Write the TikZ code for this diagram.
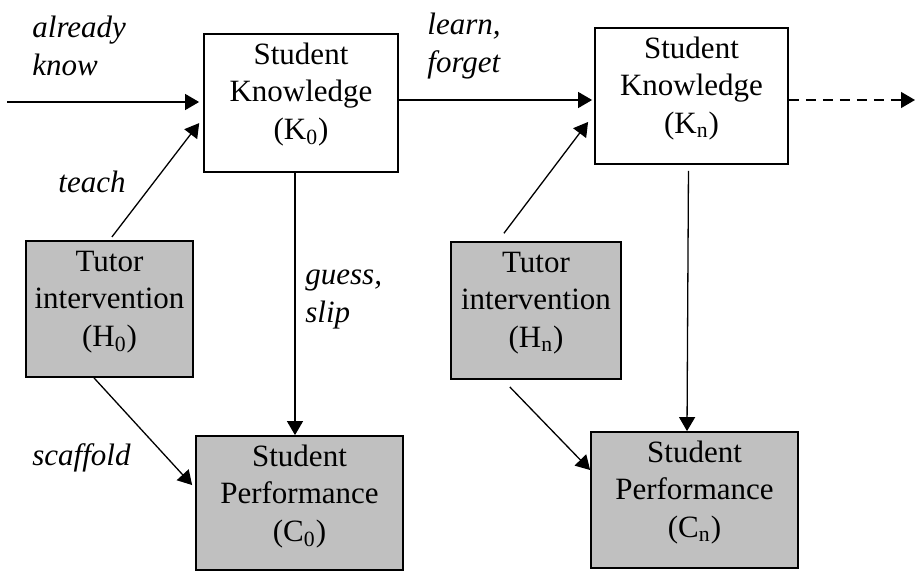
\documentclass[tikz,border=0pt]{standalone}
\usepackage{fontspec}
\setmainfont{Liberation Serif}
\usetikzlibrary{arrows.meta}
\definecolor{boxgray}{RGB}{192,192,192}
\newcommand{\boxlines}[3]{\parbox[c][#2][t]{#1}{\centering\vspace*{2pt}\strut #3}}

\begin{document}
\begin{tikzpicture}[x=0.5pt,y=-0.5pt,
    every node/.style={font=\fontsize{15.5pt}{18.8pt}\selectfont},
    plainbox/.style={draw,line width=0.9pt,inner sep=0pt,fill=white},
    shadedbox/.style={plainbox,fill=boxgray},
    edgelabel/.style={font=\fontsize{15.5pt}{18.8pt}\selectfont\itshape,align=left,inner sep=0pt,anchor=north west},
    arr/.style={line width=0.65pt,-{Triangle[length=7pt,width=8pt]}}]
  \useasboundingbox (0,0) rectangle (915,572);

  % knowledge states
  \node[plainbox] (k0) at (301,103) {\boxlines{97pt}{69pt}{Student\\Knowledge\\(K\textsubscript{0})}};
  \node[plainbox] (kn) at (691.5,96) {\boxlines{96.5pt}{68pt}{Student\\Knowledge\\(K\textsubscript{n})}};

  % tutor interventions
  \node[shadedbox] (h0) at (109.5,309) {\boxlines{83.5pt}{68pt}{Tutor\\intervention\\(H\textsubscript{0})}};
  \node[shadedbox] (hn) at (536,310.5) {\boxlines{85pt}{68.5pt}{Tutor\\intervention\\(H\textsubscript{n})}};

  % performance
  \node[shadedbox] (c0) at (299.5,503) {\boxlines{103.5pt}{67pt}{Student\\Performance\\(C\textsubscript{0})}};
  \node[shadedbox] (cn) at (694.5,500) {\boxlines{103.5pt}{68pt}{Student\\Performance\\(C\textsubscript{n})}};

  % labels
  \node[edgelabel] (lblknow) at (32,11) {\strut already\\know};
  \node[edgelabel] (lbllearn) at (427,8) {\strut learn,\\forget};
  \node[edgelabel] (lblteach) at (58,166) {\strut teach};
  \node[edgelabel] (lblguess) at (305,258) {\strut guess,\\slip};
  \node[edgelabel] (lblscaffold) at (32,439) {\strut scaffold};

  % connectors
  \coordinate (entry) at (7,102);
  \coordinate (exit) at (915,100);
  \draw[arr,shorten >=2pt] (entry) -- (entry -| k0.west);
  \draw[arr,shorten >=1pt] (k0.east |- exit) -- (kn.west |- exit);
  \draw[arr,dash pattern=on 5pt off 3.5pt] (kn.east |- exit) -- (exit);

  \draw[arr,shorten <=2pt,shorten >=3.2pt] (h0.north) -- ([yshift=-7.5pt]k0.west);
  \draw[arr,shorten <=4.9pt,shorten >=5pt] ([xshift=-19pt]hn.north) -- ([yshift=-9pt]kn.west);

  \draw[arr] ([xshift=-3pt]k0.south) -- ([xshift=-3pt]k0.south |- c0.north);
  \draw[arr,shorten <=3pt] ([xshift=-1.5pt]kn.south) -- ([xshift=-3.75pt]cn.north);

  \draw[arr,shorten >=2.2pt] ([xshift=-7.75pt]h0.south) -- ([yshift=7.35pt]c0.west);
  \draw[arr,shorten <=4.9pt] ([xshift=-16.5pt]hn.south) -- ([yshift=15pt]cn.west);
\end{tikzpicture}
\end{document}
